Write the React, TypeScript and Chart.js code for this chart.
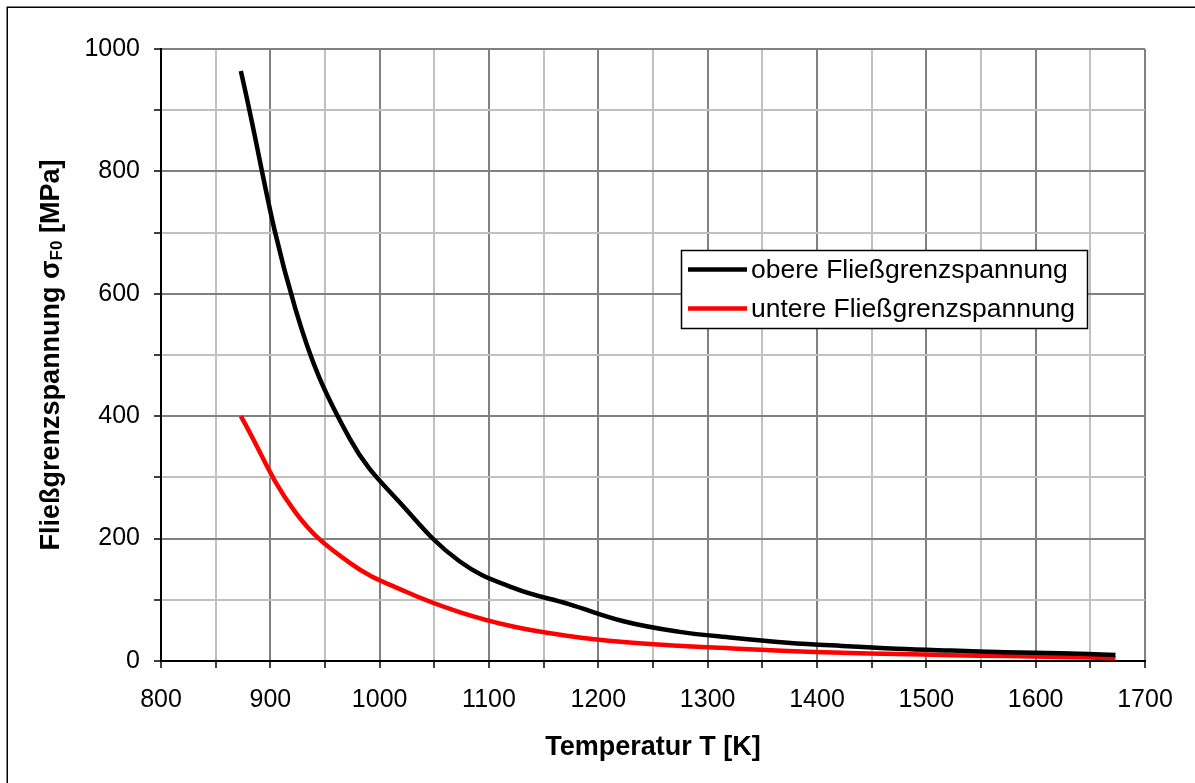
import React, { useEffect, useRef } from 'react';
import { Chart, registerables } from 'chart.js';

Chart.register(...registerables);

// Temperatures [K] (600 °C ... 1400 °C in 50 K steps)
const temperatures = [873, 923, 973, 1023, 1073, 1123, 1173, 1223, 1273, 1323, 1373, 1423, 1473, 1523, 1573, 1623, 1673];
// obere Fließgrenzspannung [MPa]
const upperYield = [964, 575, 362, 250, 163, 119, 93, 65, 48, 38, 30, 24.5, 20, 17, 14.5, 12.5, 10];
// untere Fließgrenzspannung [MPa]
const lowerYield = [400, 243, 160, 114, 80, 56, 41, 31, 25, 20.5, 16.5, 13.5, 11.5, 9.5, 8, 6.5, 4.5];

const seriesLabels = ['obere Fließgrenzspannung', 'untere Fließgrenzspannung'];
const seriesColors = ['#000000', '#ff0000'];
const xAxisTitle = 'Temperatur T [K]';
const yAxisTitleMain = 'Fließgrenzspannung σ';
const yAxisTitleSub = 'F0';
const yAxisTitleEnd = ' [MPa]';

const xMin = 800;
const xMax = 1700;
const xStep = 50;
const xLabelStep = 100;
const yMin = 0;
const yMax = 1000;
const yStep = 100;
const yLabelStep = 200;

const FONT = '"Liberation Sans", Arial, Helvetica, sans-serif';

export default function App() {
  const ref = useRef<HTMLCanvasElement | null>(null);

  useEffect(() => {
    const canvas = ref.current;
    if (!canvas) return;

    const decor = {
      id: 'decor',
      beforeDraw(chart: any) {
        const ctx = chart.ctx;
        ctx.save();
        ctx.fillStyle = '#ffffff';
        ctx.fillRect(0, 0, chart.width, chart.height);
        ctx.restore();
      },
      afterDraw(chart: any) {
        const ctx = chart.ctx;
        const ca = chart.chartArea;
        ctx.save();
        // outer frame
        ctx.strokeStyle = '#000';
        ctx.lineWidth = 1.5;
        ctx.strokeRect(7.25, 7.25, 1400, 1000);

        // x axis title
        ctx.fillStyle = '#000';
        ctx.font = `bold 27px ${FONT}`;
        ctx.textAlign = 'center';
        ctx.textBaseline = 'alphabetic';
        ctx.fillText(xAxisTitle, (ca.left + ca.right) / 2, 755);

        // y axis title (rotated, with subscript)
        const mainFont = `bold 27px ${FONT}`;
        const subFont = `bold 17px ${FONT}`;
        ctx.font = mainFont;
        const w1 = ctx.measureText(yAxisTitleMain).width;
        const w3 = ctx.measureText(yAxisTitleEnd).width;
        ctx.font = subFont;
        const w2 = ctx.measureText(yAxisTitleSub).width;
        const total = w1 + w2 + w3;
        ctx.save();
        ctx.translate(59, (ca.top + ca.bottom) / 2);
        ctx.rotate(-Math.PI / 2);
        ctx.textAlign = 'left';
        let x0 = -total / 2;
        ctx.font = mainFont;
        ctx.fillText(yAxisTitleMain, x0, 0);
        x0 += w1;
        ctx.font = subFont;
        ctx.fillText(yAxisTitleSub, x0, 3);
        x0 += w2;
        ctx.font = mainFont;
        ctx.fillText(yAxisTitleEnd, x0, 0);
        ctx.restore();

        // legend
        const lx = 681.5, ly = 250.5, lw = 406, lh = 78;
        ctx.fillStyle = '#fff';
        ctx.fillRect(lx, ly, lw, lh);
        ctx.strokeStyle = '#000';
        ctx.lineWidth = 1.5;
        ctx.strokeRect(lx, ly, lw, lh);
        const rows = [269.5, 308.5];
        ctx.font = `26.5px ${FONT}`;
        ctx.textAlign = 'left';
        ctx.textBaseline = 'middle';
        seriesLabels.forEach((label, i) => {
          ctx.strokeStyle = seriesColors[i];
          ctx.lineWidth = 4.5;
          ctx.beginPath();
          ctx.moveTo(688, rows[i]);
          ctx.lineTo(747, rows[i]);
          ctx.stroke();
          ctx.fillStyle = '#000';
          ctx.fillText(label, 751, rows[i] + 1);
        });
        ctx.restore();
      },
    };

    const makePoints = (vals: number[]) => temperatures.map((t, i) => ({ x: t, y: vals[i] }));

    const chart = new Chart(canvas, {
      type: 'line',
      data: {
        datasets: [
          {
            label: seriesLabels[0],
            data: makePoints(upperYield),
            borderColor: seriesColors[0],
            borderWidth: 4.5,
            pointRadius: 0,
            fill: false,
            tension: 0.4,
          },
          {
            label: seriesLabels[1],
            data: makePoints(lowerYield),
            borderColor: seriesColors[1],
            borderWidth: 4.5,
            pointRadius: 0,
            fill: false,
            tension: 0.4,
          },
        ],
      },
      options: {
        responsive: false,
        animation: false,
        devicePixelRatio: 1,
        layout: { padding: { top: 49, right: 50, left: 0, bottom: 0 } },
        plugins: {
          legend: { display: false },
          tooltip: { enabled: false },
          title: { display: false },
        },
        scales: {
          x: {
            type: 'linear',
            min: xMin,
            max: xMax,
            ticks: {
              stepSize: xStep,
              autoSkip: false,
              maxRotation: 0,
              minRotation: 0,
              padding: 17,
              color: '#000',
              font: { family: FONT, size: 25 },
              callback: (v: any) => (Number(v) % xLabelStep === 0 ? String(v) : ''),
            },
            grid: {
              color: (c: any) => (c.tick && c.tick.value % xLabelStep === 0 ? '#808080' : '#c0c0c0'),
              lineWidth: 2,
              tickColor: '#000',
              tickLength: 7,
              tickWidth: 1.5,
            },
            border: { display: true, color: '#000', width: 2 },
            afterFit: (s: any) => {
              s.height = 122;
            },
          },
          y: {
            type: 'linear',
            min: yMin,
            max: yMax,
            ticks: {
              stepSize: yStep,
              autoSkip: false,
              padding: 14,
              color: '#000',
              font: { family: FONT, size: 25 },
              callback: (v: any) => (Number(v) % yLabelStep === 0 ? String(v) : ''),
            },
            grid: {
              color: (c: any) => (c.tick && c.tick.value % yLabelStep === 0 ? '#808080' : '#c0c0c0'),
              lineWidth: 2,
              tickColor: '#000',
              tickLength: 7,
              tickWidth: 1.5,
            },
            border: { display: true, color: '#000', width: 2 },
            afterFit: (s: any) => {
              s.width = 161;
            },
          },
        },
      } as any,
      plugins: [decor],
    });

    return () => chart.destroy();
  }, []);

  return (
    <div style={{ position: 'fixed', left: 0, top: 0, width: 1195, height: 783, background: '#fff' }}>
      <canvas ref={ref} width={1195} height={783} style={{ display: 'block', width: 1195, height: 783 }} />
    </div>
  );
}
